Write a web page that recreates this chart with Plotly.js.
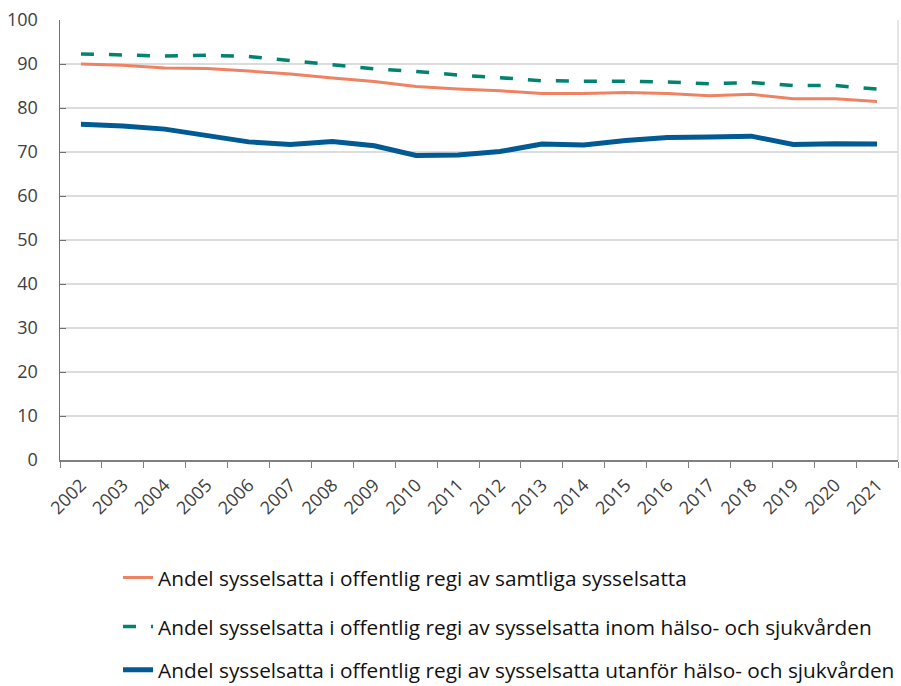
<!DOCTYPE html>
<html>
<head>
<meta charset="utf-8">
<script src="https://cdn.plot.ly/plotly-3.0.1.min.js"></script>
<style>html,body{margin:0;padding:0;background:#fff;}#chart{width:901px;height:686px;}</style>
</head>
<body>
<div id="chart"></div>
<script>
var years = ["2002","2003","2004","2005","2006","2007","2008","2009","2010","2011","2012","2013","2014","2015","2016","2017","2018","2019","2020","2021"];
var samtliga = [90.0, 89.7, 89.1, 89.0, 88.4, 87.7, 86.8, 86.0, 84.9, 84.3, 83.9, 83.3, 83.3, 83.5, 83.3, 82.8, 83.1, 82.1, 82.1, 81.5];
var inom = [92.3, 92.1, 91.8, 92.0, 91.7, 90.8, 89.9, 88.9, 88.3, 87.5, 86.9, 86.2, 86.1, 86.1, 85.9, 85.5, 85.8, 85.1, 85.1, 84.3];
var utanfor = [76.3, 75.9, 75.2, 73.7, 72.3, 71.7, 72.4, 71.4, 69.2, 69.3, 70.1, 71.8, 71.6, 72.6, 73.3, 73.4, 73.6, 71.7, 71.9, 71.8];
var names = [
  "Andel sysselsatta i offentlig regi av samtliga sysselsatta",
  "Andel sysselsatta i offentlig regi av sysselsatta inom hälso- och sjukvården",
  "Andel sysselsatta i offentlig regi av sysselsatta utanför hälso- och sjukvården"
];

var traces = [
  {x: years, y: samtliga, type: "scatter", mode: "lines", name: names[0], legend: "legend",
   line: {color: "#ee8262", width: 3}},
  {x: years, y: inom, type: "scatter", mode: "lines", name: names[1], legend: "legend2",
   line: {color: "#00836f", width: 3.5, dash: "13px,15px"}},
  {x: years, y: utanfor, type: "scatter", mode: "lines", name: names[2], legend: "legend3",
   line: {color: "#005a93", width: 5}}
];

var legFont = {family: "Open Sans, Noto Sans, sans-serif", size: 20.8, color: "#111"};
var legBase = {x: 0.1310, xref: "container", yref: "container", xanchor: "left", yanchor: "middle",
  bgcolor: "rgba(0,0,0,0)", font: legFont, borderwidth: 0};

var layout = {
  width: 901, height: 686,
  margin: {l: 60, r: 3, t: 20, b: 226, autoexpand: false},
  paper_bgcolor: "#fff", plot_bgcolor: "#fff",
  showlegend: true,
  font: {family: "Open Sans, Noto Sans, sans-serif", color: "#404040", size: 18},
  xaxis: {
    type: "category", range: [-0.5, 19.5], tickson: "boundaries", ticks: "outside", ticklen: 6, tickcolor: "#808080",
    tickangle: -45, showgrid: false, showline: true, linecolor: "#808080", linewidth: 1.5,
    ticklabelstandoff: 6, tickfont: {size: 18, color: "#404040"}, fixedrange: true
  },
  yaxis: {
    range: [0, 100], dtick: 10, showgrid: true, gridcolor: "#dcdcdc", gridwidth: 1.5,
    showline: true, linecolor: "#707070", linewidth: 1.5, zeroline: false,
    ticks: "inside", ticklen: 6, tickcolor: "#707070",
    ticklabelstandoff: 17, tickfont: {size: 18, color: "#404040"}, fixedrange: true
  },
  shapes: [
    {type: "line", xref: "paper", yref: "paper", x0: 1, x1: 1, y0: 0, y1: 1, line: {color: "#dcdcdc", width: 1.5}}
  ],
  legend: Object.assign({}, legBase, {y: 0.1574}),
  legend2: Object.assign({}, legBase, {y: 0.0860}),
  legend3: Object.assign({}, legBase, {y: 0.0230})
};

Plotly.newPlot("chart", traces, layout, {displayModeBar: false, staticPlot: true});
</script>
</body>
</html>
